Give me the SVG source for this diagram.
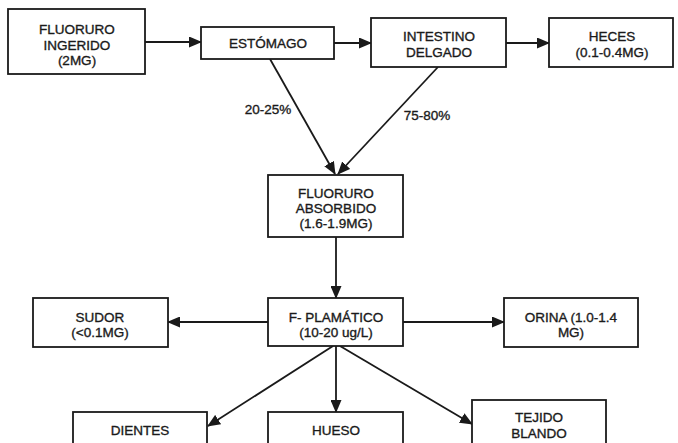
<svg xmlns="http://www.w3.org/2000/svg" width="678" height="443" viewBox="0 0 678 443">
<style>
.box{fill:#fff;stroke:#1a1a1a;stroke-width:1.8}
.t{font-family:"Liberation Sans",Arial,sans-serif;font-size:13.5px;fill:#1a1a1a;stroke:#1a1a1a;stroke-width:0.35;text-anchor:middle}
.c{stroke:#1a1a1a;stroke-width:1.8;fill:none;marker-end:url(#ah)}
</style>
<defs>
<marker id="ah" markerUnits="userSpaceOnUse" markerWidth="13" markerHeight="11" refX="12" refY="5.5" orient="auto">
<path d="M0,0 L13,5.5 L0,11 Z" fill="#1a1a1a"/>
</marker>
</defs>
<rect width="678" height="443" fill="#fff"/>
<g id="connectors">
<line class="c" x1="145" y1="42" x2="201" y2="42"/>
<line class="c" x1="334" y1="43" x2="371" y2="43"/>
<line class="c" x1="506" y1="43" x2="549" y2="43"/>
<line class="c" x1="270" y1="59" x2="335" y2="174"/>
<line class="c" x1="438" y1="67" x2="338" y2="174"/>
<line class="c" x1="336" y1="237" x2="336" y2="298"/>
<line class="c" x1="268" y1="322" x2="168" y2="322"/>
<line class="c" x1="403" y1="322" x2="504" y2="322"/>
<line class="c" x1="333" y1="346" x2="208" y2="426"/>
<line class="c" x1="336" y1="346" x2="336" y2="412"/>
<line class="c" x1="340" y1="346" x2="472" y2="424"/>
<text class="t" x="268" y="114">20-25%</text>
<text class="t" x="427" y="120">75-80%</text>
</g>
<g id="fluoruro-ingerido">
<rect class="box" x="8" y="9" width="137" height="65"/>
<text class="t" x="77" y="34">FLUORURO</text>
<text class="t" x="77" y="50">INGERIDO</text>
<text class="t" x="77" y="65">(2MG)</text>
</g>
<g id="estomago">
<rect class="box" x="201" y="27" width="133" height="32"/>
<text class="t" x="268" y="48">ESTÓMAGO</text>
</g>
<g id="intestino">
<rect class="box" x="371" y="18" width="135" height="49"/>
<text class="t" x="439" y="41">INTESTINO</text>
<text class="t" x="439" y="57">DELGADO</text>
</g>
<g id="heces">
<rect class="box" x="549" y="18" width="124" height="49"/>
<text class="t" x="612" y="41">HECES</text>
<text class="t" x="612" y="57">(0.1-0.4MG)</text>
</g>
<g id="fluoruro-absorbido">
<rect class="box" x="268" y="175" width="135" height="62"/>
<text class="t" x="336" y="198">FLUORURO</text>
<text class="t" x="336" y="213">ABSORBIDO</text>
<text class="t" x="336" y="228">(1.6-1.9MG)</text>
</g>
<g id="f-plasmatico">
<rect class="box" x="268" y="298" width="135" height="48"/>
<text class="t" x="336" y="322">F- PLAMÁTICO</text>
<text class="t" x="336" y="337">(10-20 ug/L)</text>
</g>
<g id="sudor">
<rect class="box" x="33" y="298" width="135" height="49"/>
<text class="t" x="100" y="322">SUDOR</text>
<text class="t" x="100" y="337">(&lt;0.1MG)</text>
</g>
<g id="orina">
<rect class="box" x="504" y="298" width="134" height="49"/>
<text class="t" x="571" y="322">ORINA (1.0-1.4</text>
<text class="t" x="571" y="337">MG)</text>
</g>
<g id="dientes">
<rect class="box" x="73" y="412" width="134" height="45"/>
<text class="t" x="140" y="435">DIENTES</text>
</g>
<g id="hueso">
<rect class="box" x="268" y="412" width="135" height="45"/>
<text class="t" x="336" y="435">HUESO</text>
</g>
<g id="tejido-blando">
<rect class="box" x="472" y="400" width="134" height="57"/>
<text class="t" x="539" y="422">TEJIDO</text>
<text class="t" x="539" y="438">BLANDO</text>
</g>
</svg>
